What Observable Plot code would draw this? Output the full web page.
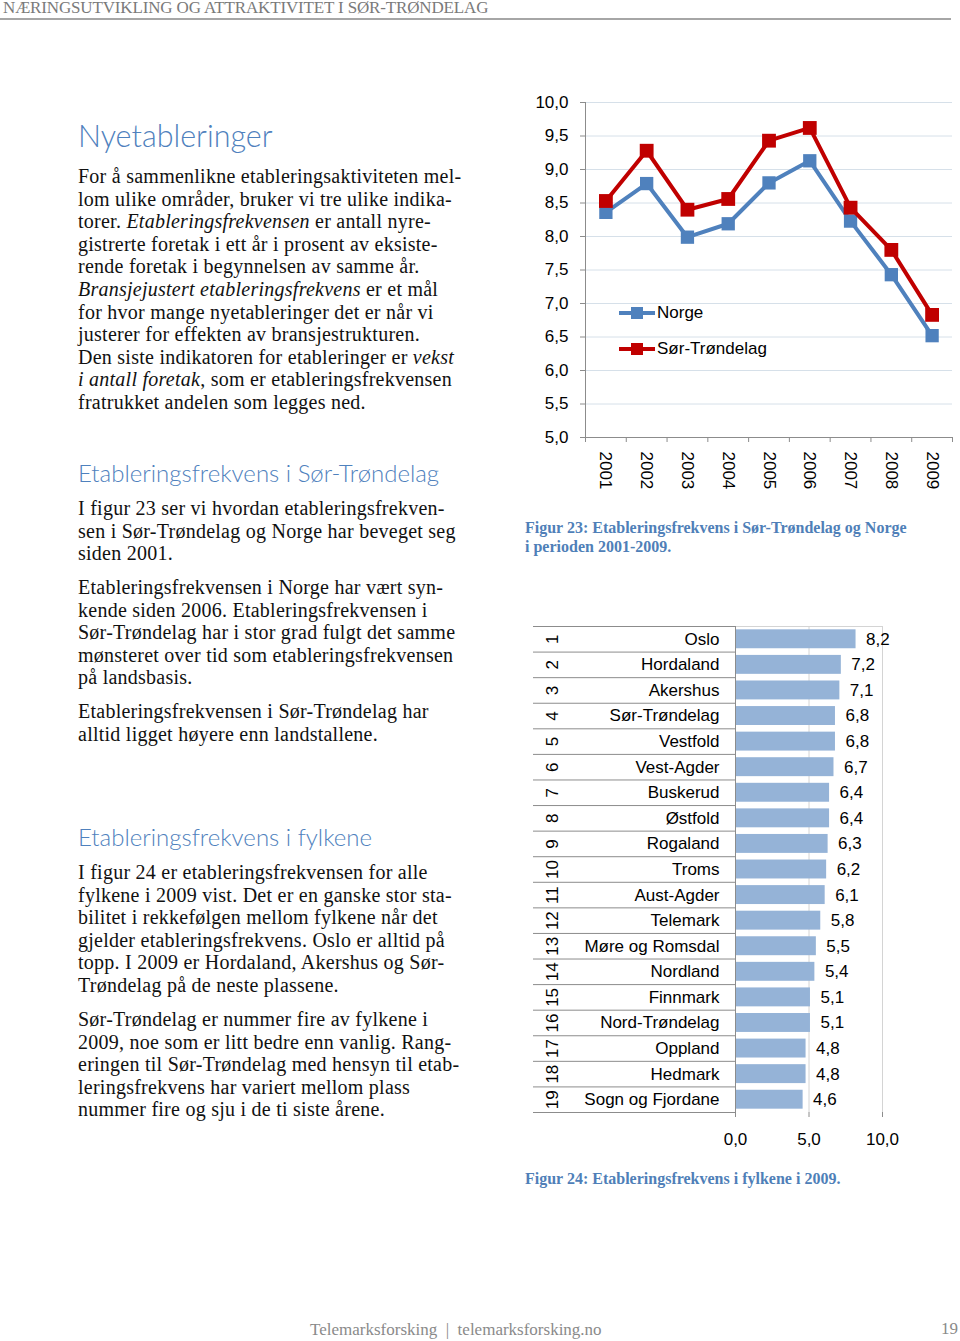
<!DOCTYPE html>
<html><head><meta charset="utf-8">
<script src="https://cdn.jsdelivr.net/npm/d3@7"></script>
<script src="https://cdn.jsdelivr.net/npm/@observablehq/plot@0.6"></script>
<style>
html,body{margin:0;padding:0;background:#fff;}
body{width:960px;height:1341px;position:relative;overflow:hidden;font-family:"Liberation Serif","Times New Roman",serif;}
.abs{position:absolute;white-space:nowrap;}
.hdr{left:3px;top:-2px;font-size:17px;line-height:20px;color:#7a7a7a;letter-spacing:-0.15px;}
.rule{left:0;top:18px;width:951px;height:2px;background:#a6a6a6;}
.h{left:78px;color:#4f81bd;font-family:Lato,"Open Sans",sans-serif;font-weight:300;}
.p{left:78px;font-size:20px;line-height:22.6px;letter-spacing:0.25px;color:#111;}
.cap{left:525px;font-size:16px;font-weight:bold;color:#4f7fb8;line-height:19px;}
.leg{font-family:"Liberation Sans",Arial,sans-serif;font-size:17px;color:#000;display:flex;align-items:center;}
.foot{font-size:17px;color:#8a8a8a;}
</style>
</head><body>
<div class="abs hdr">NÆRINGSUTVIKLING OG ATTRAKTIVITET I SØR-TRØNDELAG</div>
<div class="abs rule"></div>

<div class="abs h" style="top:117px;font-size:30.5px;">Nyetableringer</div>
<div class="abs p" style="top:165px;">For å sammenlikne etableringsaktiviteten mel-<br>lom ulike områder, bruker vi tre ulike indika-<br>torer.  <i>Etableringsfrekvensen</i> er antall nyre-<br>gistrerte foretak i ett år i prosent av eksiste-<br>rende foretak i begynnelsen av samme år.<br><i>Bransjejustert etableringsfrekvens</i> er et mål<br>for hvor mange nyetableringer det er når vi<br>justerer for effekten av bransjestrukturen.<br>Den siste indikatoren for etableringer er <i>vekst</i><br><i>i antall foretak</i>, som er etableringsfrekvensen<br>fratrukket andelen som legges ned.</div>

<div class="abs h" style="top:458px;font-size:24px;">Etableringsfrekvens i Sør-Trøndelag</div>
<div class="abs p" style="top:497px;">I figur 23 ser vi hvordan etableringsfrekven-<br>sen i Sør-Trøndelag og Norge har beveget seg<br>siden 2001.</div>
<div class="abs p" style="top:576px;">Etableringsfrekvensen i Norge har vært syn-<br>kende siden 2006.  Etableringsfrekvensen i<br>Sør-Trøndelag har i stor grad fulgt det samme<br>mønsteret over tid som etableringsfrekvensen<br>på landsbasis.</div>
<div class="abs p" style="top:700px;">Etableringsfrekvensen i Sør-Trøndelag har<br>alltid ligget høyere enn landstallene.</div>

<div class="abs h" style="top:822px;font-size:24px;">Etableringsfrekvens i fylkene</div>
<div class="abs p" style="top:861px;">I figur 24 er etableringsfrekvensen for alle<br>fylkene i 2009 vist.  Det er en ganske stor sta-<br>bilitet i rekkefølgen mellom fylkene når det<br>gjelder etableringsfrekvens.  Oslo er alltid på<br>topp.  I 2009 er Hordaland, Akershus og Sør-<br>Trøndelag på de neste plassene.</div>
<div class="abs p" style="top:1008px;">Sør-Trøndelag er nummer fire av fylkene i<br>2009, noe som er litt bedre enn vanlig.  Rang-<br>eringen til Sør-Trøndelag med hensyn til etab-<br>leringsfrekvens har variert mellom plass<br>nummer fire og sju i de ti siste årene.</div>

<div id="chart1" class="abs" style="left:520px;top:85px;"></div>
<div class="abs leg" style="left:619px;top:302px;"><svg width="38" height="22"><line x1="0" y1="11" x2="36" y2="11" stroke="#4f81bd" stroke-width="4"/><rect x="12" y="5" width="12" height="12" fill="#4f81bd"/></svg><span>Norge</span></div>
<div class="abs leg" style="left:619px;top:338px;"><svg width="38" height="22"><line x1="0" y1="11" x2="36" y2="11" stroke="#c00000" stroke-width="4"/><rect x="12" y="5" width="12" height="12" fill="#c00000"/></svg><span>Sør-Trøndelag</span></div>
<div class="abs cap" style="top:518px;">Figur 23: Etableringsfrekvens i Sør-Trøndelag og Norge<br>i perioden 2001-2009.</div>

<div id="chart2" class="abs" style="left:520px;top:615px;"></div>
<div class="abs cap" style="top:1169px;">Figur 24: Etableringsfrekvens i fylkene i 2009.</div>

<div class="abs foot" style="left:310px;top:1320px;">Telemarksforsking &nbsp;|&nbsp; telemarksforsking.no</div>
<div class="abs foot" style="left:941px;top:1319px;">19</div>

<script>
// ---- Data: Figur 23 ----
const years = [2001, 2002, 2003, 2004, 2005, 2006, 2007, 2008, 2009];
const norge = [8.36, 8.79, 7.99, 8.19, 8.80, 9.13, 8.23, 7.43, 6.52];
const sorTrondelag = [8.53, 9.28, 8.40, 8.56, 9.43, 9.62, 8.43, 7.80, 6.83];
const yTicks = [5.0, 5.5, 6.0, 6.5, 7.0, 7.5, 8.0, 8.5, 9.0, 9.5, 10.0];

// ---- Data: Figur 24 ----
const fylker = ["Oslo", "Hordaland", "Akershus", "Sør-Trøndelag", "Vestfold", "Vest-Agder", "Buskerud", "Østfold", "Rogaland", "Troms", "Aust-Agder", "Telemark", "Møre og Romsdal", "Nordland", "Finnmark", "Nord-Trøndelag", "Oppland", "Hedmark", "Sogn og Fjordane"];
const ranks = [1, 2, 3, 4, 5, 6, 7, 8, 9, 10, 11, 12, 13, 14, 15, 16, 17, 18, 19];
const verdier = [8.2, 7.2, 7.1, 6.8, 6.8, 6.7, 6.4, 6.4, 6.3, 6.2, 6.1, 5.8, 5.5, 5.4, 5.1, 5.1, 4.8, 4.8, 4.6];
const xTicks = [0, 5, 10];

const fmt = d => d.toFixed(1).replace(".", ",");
const BLUE = "#4f81bd", RED = "#c00000", AXIS = "#8c8c8c";
const font = {fontFamily: "'Liberation Sans', Arial, sans-serif", fontSize: "17px", color: "#000", background: "transparent", overflow: "visible"};

const norgeData = years.map((y, i) => ({year: y, value: norge[i]}));
const stData = years.map((y, i) => ({year: y, value: sorTrondelag[i]}));
const boundaries = years.map(y => y - 0.5).concat([years[years.length - 1] + 0.5]);

const chart1 = Plot.plot({
  width: 440, height: 420,
  marginLeft: 65, marginRight: 8, marginTop: 17, marginBottom: 68,
  style: font,
  x: {type: "linear", domain: [boundaries[0], boundaries[boundaries.length - 1]], label: null},
  y: {domain: [5, 10], label: null},
  marks: [
    Plot.gridY(yTicks, {stroke: "#d6e0e9", strokeOpacity: 1}),
    Plot.axisY(yTicks, {tickFormat: fmt, tickSize: 5, tickPadding: 12, stroke: AXIS, label: null}),
    Plot.axisX(boundaries, {tickFormat: () => "", tickSize: 5, stroke: AXIS, label: null}),
    Plot.axisX(years, {tickSize: 0, tickRotate: 90, tickPadding: 14, tickFormat: d => String(d), label: null}),
    Plot.frame({anchor: "left", stroke: AXIS}),
    Plot.frame({anchor: "bottom", stroke: AXIS}),
    Plot.line(norgeData, {x: "year", y: "value", stroke: BLUE, strokeWidth: 4}),
    Plot.dot(norgeData, {x: "year", y: "value", symbol: "square", r: 7.5, fill: BLUE}),
    Plot.line(stData, {x: "year", y: "value", stroke: RED, strokeWidth: 4}),
    Plot.dot(stData, {x: "year", y: "value", symbol: "square", r: 7.8, fill: RED})
  ]
});
document.getElementById("chart1").appendChild(chart1);

const barData = fylker.map((f, i) => ({fylke: f, rank: ranks[i], value: verdier[i]}));
const rankOf = new Map(barData.map(d => [d.fylke, d.rank]));
const H = 545, MT = 11, MB = 48;
const step = (H - MT - MB) / fylker.length;

const chart2 = Plot.plot({
  width: 440, height: H,
  marginLeft: 215, marginRight: 78, marginTop: MT, marginBottom: MB,
  style: font,
  x: {domain: [0, 10], label: null},
  y: {domain: fylker, paddingInner: 0.26, paddingOuter: 0.13, round: false, label: null},
  marks: [
    Plot.frame({anchor: "top", stroke: "#d4d4d4"}),
    Plot.gridX([5, 10], {stroke: "#d4d4d4", strokeOpacity: 1}),
    Plot.barX(barData, {x: "value", y: "fylke", fill: "#95b3d7"}),
    Plot.text(barData, {x: "value", y: "fylke", text: d => fmt(d.value), textAnchor: "start", dx: 10}),
    Plot.axisY({tickSize: 0, tickPadding: 16, label: null}),
    Plot.axisY({tickSize: 0, tickPadding: 178, tickRotate: -90, tickFormat: f => String(rankOf.get(f)), label: null}),
    Plot.axisY({tickSize: 202, tickFormat: () => "", dy: -step / 2, stroke: AXIS, label: null}),
    Plot.axisY([fylker[fylker.length - 1]], {tickSize: 202, tickFormat: () => "", dy: step / 2, stroke: AXIS, label: null}),
    Plot.frame({anchor: "left", stroke: AXIS}),
    Plot.axisX(xTicks, {tickFormat: fmt, tickSize: 5, tickPadding: 15, stroke: AXIS, label: null})
  ]
});
document.getElementById("chart2").appendChild(chart2);
</script>
</body></html>
